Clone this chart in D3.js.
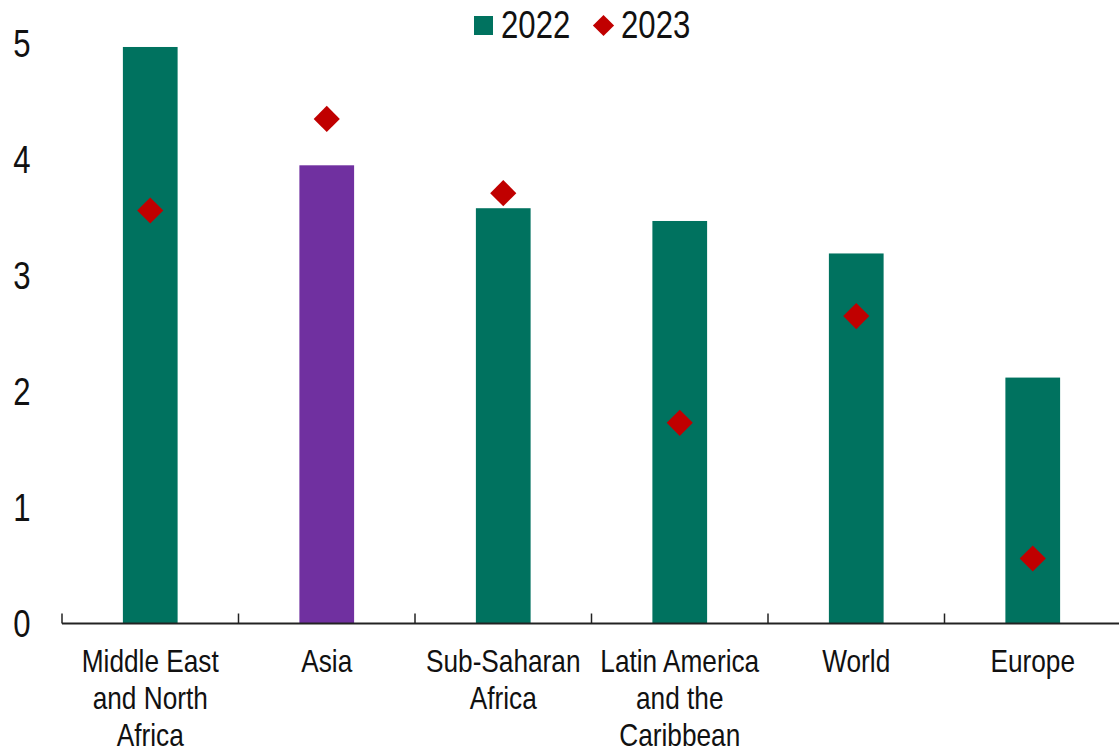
<!DOCTYPE html>
<html>
<head>
<meta charset="utf-8">
<script src="https://cdn.jsdelivr.net/npm/d3@7"></script>
<style>
  html, body { margin: 0; padding: 0; background: #fff; }
  svg { display: block; }
  text { font-family: 'Liberation Sans', Arial, sans-serif; fill: #111; }
</style>
</head>
<body>
<svg id="chart" width="1119" height="752"></svg>
<script>
// Regions, in display order
const categories = [
  ["Middle East", "and North", "Africa"],
  ["Asia"],
  ["Sub-Saharan", "Africa"],
  ["Latin America", "and the", "Caribbean"],
  ["World"],
  ["Europe"]
];
const values2022 = [4.97, 3.95, 3.58, 3.47, 3.19, 2.12];
const values2023 = [3.56, 4.35, 3.71, 1.73, 2.65, 0.56];
const barColors = ["#00725F", "#7030A0", "#00725F", "#00725F", "#00725F", "#00725F"];
const yTicks = [0, 1, 2, 3, 4, 5];
const seriesNames = ["2022", "2023"];

const teal = "#00725F";
const red = "#C00000";
// narrow typeface look: squeeze glyphs horizontally
const narrow = "scale(0.82,1)";

const svg = d3.select("#chart");
const plotLeft = 62, plotRight = 1121, plotTop = 43.5, plotBottom = 623.5;

const keys = categories.map((c, i) => i);
const x = d3.scaleBand().domain(keys).range([plotLeft, plotRight]).padding(0);
const y = d3.scaleLinear().domain([0, 5]).range([plotBottom, plotTop]);

const barW = x.bandwidth() * 0.31;

// bars (2022)
svg.append("g").selectAll("rect")
  .data(values2022)
  .join("rect")
  .attr("x", (d, i) => x(i) + x.bandwidth() / 2 - barW / 2)
  .attr("width", barW)
  .attr("y", d => y(d))
  .attr("height", d => y(0) - y(d))
  .attr("fill", (d, i) => barColors[i]);

// diamonds (2023)
const diamond = d3.symbol().type(d3.symbolSquare).size(18.5 * 18.5);
svg.append("g").selectAll("path")
  .data(values2023)
  .join("path")
  .attr("d", diamond)
  .attr("transform", (d, i) => `translate(${x(i) + x.bandwidth() / 2},${y(d)}) rotate(45)`)
  .attr("fill", red);

// x axis with ticks at category boundaries
const xAxis = svg.append("g");
xAxis.append("line")
  .attr("x1", plotLeft).attr("x2", plotRight)
  .attr("y1", y(0)).attr("y2", y(0))
  .attr("stroke", "#222").attr("stroke-width", 2);
xAxis.selectAll("line.tick")
  .data(keys)
  .join("line")
  .attr("class", "tick")
  .attr("x1", d => x(d)).attr("x2", d => x(d))
  .attr("y1", y(0)).attr("y2", y(0) - 10)
  .attr("stroke", "#222").attr("stroke-width", 1.5);

// category labels
const lab = xAxis.selectAll("text.cat")
  .data(categories)
  .join("text")
  .attr("class", "cat")
  .attr("text-anchor", "middle")
  .attr("font-size", 32)
  .attr("transform", (d, i) => `translate(${x(i) + x.bandwidth() / 2},672) ${narrow}`);
lab.selectAll("tspan")
  .data(d => d)
  .join("tspan")
  .attr("x", 0)
  .attr("y", (d, j) => j * 37)
  .text(d => d);

// y tick labels
svg.append("g").selectAll("text")
  .data(yTicks)
  .join("text")
  .attr("transform", d => `translate(22,${y(d)}) ${narrow}`)
  .attr("dy", "0.36em")
  .attr("text-anchor", "middle")
  .attr("font-size", 38)
  .text(d => d);

// legend
const legend = svg.append("g");
legend.append("rect")
  .attr("x", 474).attr("y", 16).attr("width", 19).attr("height", 19)
  .attr("fill", teal);
legend.append("text")
  .attr("transform", `translate(501,37.5) ${narrow}`)
  .attr("font-size", 38)
  .text(seriesNames[0]);
legend.append("path")
  .attr("d", d3.symbol().type(d3.symbolSquare).size(15 * 15))
  .attr("transform", "translate(603.5,25.5) rotate(45)")
  .attr("fill", red);
legend.append("text")
  .attr("transform", `translate(621,37.5) ${narrow}`)
  .attr("font-size", 38)
  .text(seriesNames[1]);
</script>
</body>
</html>
